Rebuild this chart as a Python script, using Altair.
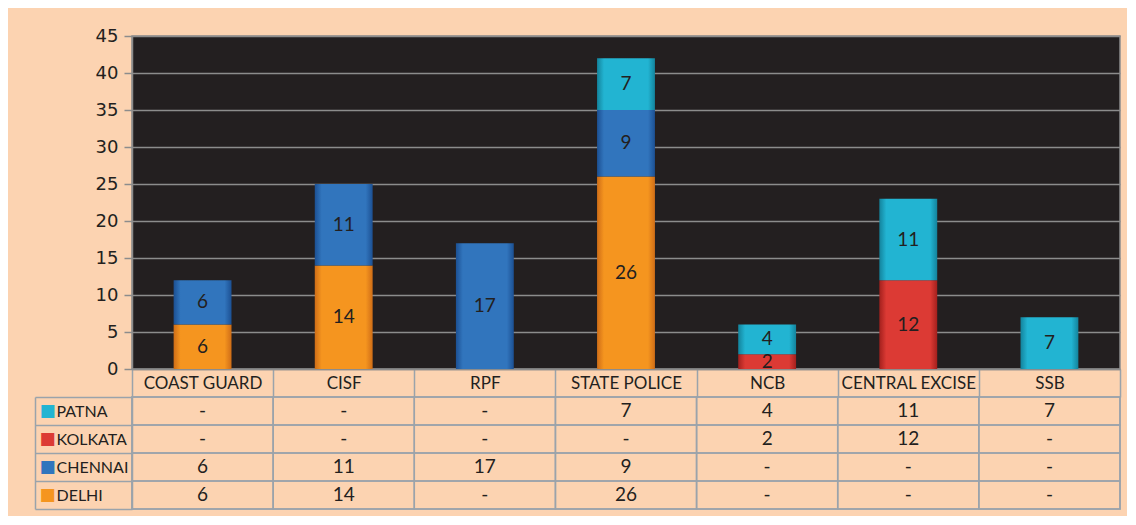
import altair as alt
import pandas as pd

categories = ["COAST GUARD", "CISF", "RPF", "STATE POLICE", "NCB", "CENTRAL EXCISE", "SSB"]
series = ["PATNA", "KOLKATA", "CHENNAI", "DELHI"]
patna = [None, None, None, 7, 4, 11, 7]
kolkata = [None, None, None, None, 2, 12, None]
chennai = [6, 11, 17, 9, None, None, None]
delhi = [6, 14, None, 26, None, None, None]
y_ticks = [0, 5, 10, 15, 20, 25, 30, 35, 40, 45]

stack_order = {"DELHI": 0, "CHENNAI": 1, "KOLKATA": 2, "PATNA": 3}
# main, edge colours for glossy bars
palette = {
    "PATNA": ("#22b4d2", "#13839c"),
    "KOLKATA": ("#dc3a34", "#a3201d"),
    "CHENNAI": ("#3175bd", "#1c5093"),
    "DELHI": ("#f5951f", "#cf6d17"),
}

rows = []
for s, vals in zip(series, [patna, kolkata, chennai, delhi]):
    for c, v in zip(categories, vals):
        rows.append({"category": c, "series": s, "value": v, "order": stack_order[s]})
df = pd.DataFrame(rows)

GRID = "#8c8c8c"
CELL = "#9aa3ab"
TXT = "#231f20"

x_enc = alt.X(
    "category:N", sort=categories,
    scale=alt.Scale(paddingInner=0, paddingOuter=0),
    axis=alt.Axis(
        title=None, labelAngle=0, labelFont="Lato", labelFontSize=17, labelColor=TXT,
        tickBand="extent", tickSize=28, tickColor=CELL, tickWidth=1.5,
        labelBaseline="middle", labelPadding=-14, domainColor=GRID, domainWidth=1.5,
        grid=False,
    ),
)
y_scale = alt.Scale(domain=[0, 45], nice=False)
y_axis = alt.Axis(
    values=y_ticks, title=None, grid=True, gridColor=GRID, gridWidth=1.5,
    domainColor=GRID, domainWidth=1.5, tickColor=GRID, tickSize=8, tickWidth=1.5,
    labelFont="DejaVu Sans", labelFontSize=18, labelColor=TXT, labelPadding=6,
)

base = (
    alt.Chart(df)
    .transform_filter("isValid(datum.value)")
    .transform_stack(stack="value", groupby=["category"], as_=["y0", "y1"],
                     sort=[alt.SortField("order", order="ascending")])
)

layers = []
for s in ["DELHI", "CHENNAI", "KOLKATA", "PATNA"]:
    main, edge = palette[s]
    grad = alt.Gradient(
        gradient="linear", x1=0, x2=1, y1=0, y2=0,
        stops=[
            alt.GradientStop(offset=0, color=edge),
            alt.GradientStop(offset=0.12, color=main),
            alt.GradientStop(offset=0.88, color=main),
            alt.GradientStop(offset=1, color=edge),
        ],
    )
    layers.append(
        base.transform_filter(f"datum.series === '{s}'")
        .mark_bar(width=alt.RelativeBandSize(0.41), color=grad)
        .encode(x=x_enc, y=alt.Y("y0:Q", scale=y_scale, axis=y_axis), y2="y1:Q")
    )

labels = (
    base.transform_calculate(ymid="(datum.y0 + datum.y1) / 2")
    .mark_text(font="Lato", fontSize=19, color=TXT)
    .encode(x=x_enc, y=alt.Y("ymid:Q", scale=y_scale, axis=y_axis), text="value:Q")
)

bars = alt.LayerChart(
    layer=layers + [labels],
    view=alt.ViewBackground(fill="#231f20", stroke=GRID, strokeWidth=1.5),
).properties(width=988, height=333)

# ---------- data table ----------
tx = alt.X("category:N", sort=categories,
           scale=alt.Scale(paddingInner=0, paddingOuter=0), axis=None)
ty_scale = alt.Scale(paddingInner=0, paddingOuter=0)

axis_names = alt.Axis(
    orient="left", title=None, labelAlign="left", labelPadding=-21,
    labelFont="Lato", labelFontSize=16, labelColor=TXT,
    tickBand="extent", tickSize=97, tickColor=CELL, tickWidth=1.5,
    domainColor=CELL, domainWidth=1.5, grid=False,
)
swatch_color = {
    "condition": [
        {"test": f"datum.value === '{s}'", "value": palette[s][0]} for s in series[:-1]
    ],
    "value": palette[series[-1]][0],
}
axis_swatch = alt.Axis(
    orient="left", title=None, labelExpr="'\u25a0'", labelAlign="left",
    labelPadding=93, ticks=False, tickSize=0, domain=False, grid=False,
    labelFont="DejaVu Sans", labelFontSize=17, labelColor=swatch_color,
)
axis_border = alt.Axis(
    orient="left", title=None, offset=97, labels=False, ticks=False,
    domain=True, domainColor=CELL, domainWidth=1.5, grid=False,
)

tbase = alt.Chart(df).transform_calculate(
    label="isValid(datum.value) ? format(datum.value, 'd') : '-'"
)
cells = tbase.mark_rect(fillOpacity=0, stroke=CELL, strokeWidth=1.5).encode(
    x=tx, y=alt.Y("series:N", sort=series, scale=ty_scale, axis=axis_names)
)
texts = tbase.mark_text(font="Lato", fontSize=19, color=TXT).encode(
    x=tx, y=alt.Y("series:N", sort=series, scale=ty_scale, axis=axis_swatch),
    text="label:N",
)
border = tbase.mark_rect(opacity=0).encode(
    x=tx, y=alt.Y("series:N", sort=series, scale=ty_scale, axis=axis_border)
)

table = alt.LayerChart(
    layer=[cells, texts, border],
    view=alt.ViewBackground(stroke=CELL, strokeWidth=1.5),
).resolve_axis(y="independent").properties(width=988, height=112)

chart = (
    alt.vconcat(bars, table, spacing=28, bounds="flush")
    .configure(background="#fcd3b1", padding={"left": 25, "top": 18, "right": 5, "bottom": 5})
)

chart.save("out.html", embed_options={"renderer": "svg", "actions": False})
